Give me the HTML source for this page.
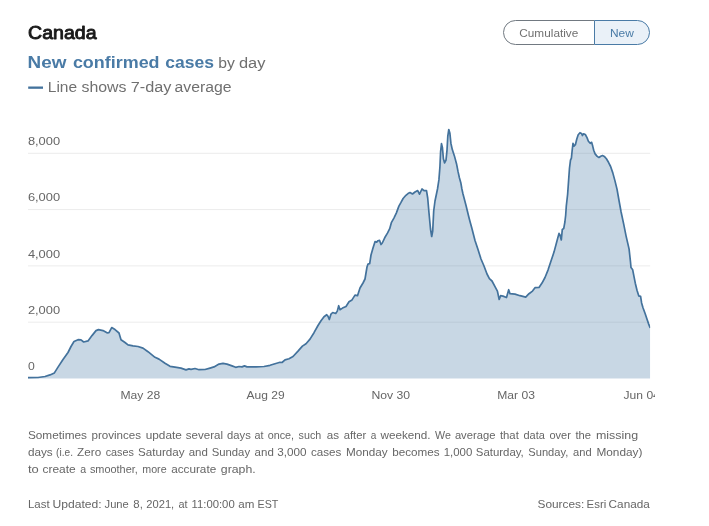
<!DOCTYPE html>
<html><head><meta charset="utf-8"><title>Canada</title>
<style>
html,body{margin:0;padding:0;background:#fff;}
svg{display:block;font-family:"Liberation Sans",sans-serif;will-change:transform;}
</style></head><body>
<svg width="709" height="526" viewBox="0 0 709 526">
<rect width="709" height="526" fill="#fff"/>
<!-- header -->
<text x="28.1" y="38.7" font-size="17.6" fill="#1a1a1a" stroke="#1a1a1a" stroke-width="0.9" stroke-linejoin="round" textLength="68.5" lengthAdjust="spacingAndGlyphs">Canada</text>
<text x="27.6" y="67.5" font-size="16.2" font-weight="bold" fill="#4a7ba6" textLength="38.9" lengthAdjust="spacingAndGlyphs">New</text>
<text x="72.9" y="67.5" font-size="16.2" font-weight="bold" fill="#4a7ba6" textLength="86.7" lengthAdjust="spacingAndGlyphs">confirmed</text>
<text x="165.2" y="67.5" font-size="16.2" font-weight="bold" fill="#4a7ba6" textLength="48.7" lengthAdjust="spacingAndGlyphs">cases</text>
<text x="218.3" y="67.5" font-size="15.5" font-weight="normal" fill="#6f6f6f" textLength="16.6" lengthAdjust="spacingAndGlyphs">by</text>
<text x="238.9" y="67.5" font-size="15.5" font-weight="normal" fill="#6f6f6f" textLength="26.5" lengthAdjust="spacingAndGlyphs">day</text>
<rect x="28.2" y="86.5" width="14.8" height="2.3" fill="#43729c"/>
<text x="47.8" y="91.9" font-size="14" font-weight="normal" fill="#707070" textLength="29.3" lengthAdjust="spacingAndGlyphs">Line</text>
<text x="81.5" y="91.9" font-size="14" font-weight="normal" fill="#707070" textLength="45.0" lengthAdjust="spacingAndGlyphs">shows</text>
<text x="130.8" y="91.9" font-size="14" font-weight="normal" fill="#707070" textLength="40.7" lengthAdjust="spacingAndGlyphs">7-day</text>
<text x="174.5" y="91.9" font-size="14" font-weight="normal" fill="#707070" textLength="57.0" lengthAdjust="spacingAndGlyphs">average</text>
<!-- toggle -->
<path d="M594.5,20.5 H515.5 A12,12 0 0 0 515.5,44.5 H594.5" fill="#fff" stroke="#717981" stroke-width="1"/>
<path d="M594.5,20.5 H637.5 A12,12 0 0 1 637.5,44.5 H594.5 Z" fill="#eaf1f8" stroke="#4a7ba6" stroke-width="1"/>
<text x="519.3" y="37.1" font-size="11.7" fill="#707070" textLength="59" lengthAdjust="spacingAndGlyphs">Cumulative</text>
<text x="610" y="37.1" font-size="11.7" fill="#4a7ba6" textLength="23.9" lengthAdjust="spacingAndGlyphs">New</text>
<!-- grid -->
<g stroke="#ececec" stroke-width="1">
<line x1="28" x2="650.2" y1="153.3" y2="153.3"/>
<line x1="28" x2="650.2" y1="209.6" y2="209.6"/>
<line x1="28" x2="650.2" y1="265.9" y2="265.9"/>
<line x1="28" x2="650.2" y1="322.2" y2="322.2"/>
</g>
<g font-size="11.2" fill="#666">
<text x="27.9" y="145.1" textLength="32.2" lengthAdjust="spacingAndGlyphs">8,000</text>
<text x="27.9" y="201.4" textLength="32.2" lengthAdjust="spacingAndGlyphs">6,000</text>
<text x="27.9" y="257.7" textLength="32.2" lengthAdjust="spacingAndGlyphs">4,000</text>
<text x="27.9" y="314.0" textLength="32.2" lengthAdjust="spacingAndGlyphs">2,000</text>
<text x="27.9" y="370.2" textLength="6.8" lengthAdjust="spacingAndGlyphs">0</text>
</g>
<!-- area -->
<defs><clipPath id="ca"><rect x="0" y="100" width="650.2" height="300"/></clipPath></defs>
<g clip-path="url(#ca)">
<path d="M28,377.7 L38,377.5 L45,376.5 L50,374.9 L54.4,372.9 L58,367.1 L63,359.5 L68,352.5 L71,346.5 L74,341.5 L78,339.7 L81,339.9 L83.7,342 L88,340.9 L92,335.6 L96,330.6 L98.5,329.6 L103,330.6 L107,332.8 L109,332.6 L111.7,327.6 L115,329.6 L119,333 L121,339.7 L125,342.5 L128,344.9 L133,345.9 L138,346.5 L143,348.1 L148,351.7 L155,357.3 L159,359.1 L165,363.3 L170,366.3 L175,367.1 L181,368.1 L186,369.9 L189,368.9 L191,369.3 L195,368.5 L199,369.7 L205,369.5 L210,368.1 L214,366.9 L219,364.1 L223,363.3 L227,364.1 L232,365.9 L235.7,367.3 L239,366.5 L242,366.9 L244.5,365.9 L247,366.9 L256,366.9 L264,366.5 L270,365.3 L275,363.7 L280,362.3 L282,362.5 L285,359.9 L289,358.7 L293,356.5 L298,351.1 L302.4,346.1 L306,343.7 L310,339.1 L314,332.7 L318,325.5 L321,320.7 L324,316.7 L326.7,314.7 L328,316.3 L329.3,319.5 L331,314.1 L332.7,312.5 L335.7,313.5 L337.3,311.1 L338.7,305.7 L340,309.7 L342.5,308.1 L346,306.5 L349,301.7 L352,299.9 L355,295.1 L357.5,295.7 L360,288 L363,283 L365,279 L367,267 L368,264 L369.7,263.6 L371,255 L373,248.1 L375,241.7 L376.7,242.1 L378,240.7 L379.5,240.3 L381,244.5 L382.3,243 L384.7,237.8 L387.6,232.9 L389.7,228.7 L391.5,222.3 L393.9,218.1 L396.3,213.1 L398.9,206.1 L401,202.4 L403.1,198.5 L405.9,195.3 L408,193.6 L410,192.6 L412.5,194 L415,192 L417.7,190.6 L419.5,194.2 L422,189 L424,190.6 L426.5,190.6 L427.7,198 L429,213 L430.5,229 L431.7,236.5 L432.7,231 L433.7,211 L435,201 L437.5,189 L438.9,179.9 L439.9,167.2 L440.6,151.7 L441.5,143.6 L442.4,147.4 L443.4,158.7 L444.6,163 L446,160.1 L447,150.3 L447.8,136.2 L448.8,129.5 L449.9,133.3 L450.9,143.2 L452.3,149.6 L454.4,155.9 L456.5,163.7 L458,171.4 L459.4,177.8 L460.8,182.7 L461.9,189 L463,194 L465.9,205 L468.7,216.5 L470,221.5 L471.8,228 L475,240.5 L478,249.5 L481,259 L484,266 L487,274 L489.4,278.7 L492,281 L495,286.7 L497.4,291.1 L499.2,299.5 L500.6,295.7 L503,296.1 L506.5,297.5 L508.7,289.7 L510,293.7 L515,294.1 L520,295.7 L525.7,297.1 L529,293.7 L532.5,291.1 L535,287.7 L539,287.5 L542,283.1 L545,277.5 L548,270.1 L551,261.1 L554,252.1 L556.7,242 L559,233.4 L560,235 L561.3,240 L562.3,229.4 L563.7,228.6 L564.9,222 L565.7,215 L566.3,206 L567.6,194.5 L568.6,180.6 L569.5,168 L570.5,160.2 L571.4,158.1 L572.1,151 L573,143.3 L574,146.1 L575.4,144.7 L576.8,139 L578.2,134.8 L580,132.7 L581.5,133.4 L582.4,135.5 L583.6,133.8 L585.3,134.5 L587,137.6 L588.4,141.2 L590.2,143.3 L591.6,142.3 L592.7,146.1 L593.7,150.3 L595.1,153.9 L597.2,156.4 L598.9,157.5 L600.8,156.2 L602.5,155.5 L604.3,156.4 L606.4,158.8 L608.5,162.3 L610.6,166.5 L612.8,172.9 L614.9,180.6 L617,189.1 L619.1,201 L621.1,212 L623.7,224.1 L626.1,236.1 L629.1,249.1 L630.5,262 L631,267.6 L632.7,269.8 L633.9,276.1 L635.3,283.2 L637,290.2 L638.8,295.9 L640.6,296.3 L641.6,302.9 L643,307.8 L645.1,313.5 L647.2,319.8 L648.7,324.1 L650.2,328 L650.2,378.5 L28,378.5 Z" fill="#4a7ba6" fill-opacity="0.3"/>
<path d="M28,377.7 L38,377.5 L45,376.5 L50,374.9 L54.4,372.9 L58,367.1 L63,359.5 L68,352.5 L71,346.5 L74,341.5 L78,339.7 L81,339.9 L83.7,342 L88,340.9 L92,335.6 L96,330.6 L98.5,329.6 L103,330.6 L107,332.8 L109,332.6 L111.7,327.6 L115,329.6 L119,333 L121,339.7 L125,342.5 L128,344.9 L133,345.9 L138,346.5 L143,348.1 L148,351.7 L155,357.3 L159,359.1 L165,363.3 L170,366.3 L175,367.1 L181,368.1 L186,369.9 L189,368.9 L191,369.3 L195,368.5 L199,369.7 L205,369.5 L210,368.1 L214,366.9 L219,364.1 L223,363.3 L227,364.1 L232,365.9 L235.7,367.3 L239,366.5 L242,366.9 L244.5,365.9 L247,366.9 L256,366.9 L264,366.5 L270,365.3 L275,363.7 L280,362.3 L282,362.5 L285,359.9 L289,358.7 L293,356.5 L298,351.1 L302.4,346.1 L306,343.7 L310,339.1 L314,332.7 L318,325.5 L321,320.7 L324,316.7 L326.7,314.7 L328,316.3 L329.3,319.5 L331,314.1 L332.7,312.5 L335.7,313.5 L337.3,311.1 L338.7,305.7 L340,309.7 L342.5,308.1 L346,306.5 L349,301.7 L352,299.9 L355,295.1 L357.5,295.7 L360,288 L363,283 L365,279 L367,267 L368,264 L369.7,263.6 L371,255 L373,248.1 L375,241.7 L376.7,242.1 L378,240.7 L379.5,240.3 L381,244.5 L382.3,243 L384.7,237.8 L387.6,232.9 L389.7,228.7 L391.5,222.3 L393.9,218.1 L396.3,213.1 L398.9,206.1 L401,202.4 L403.1,198.5 L405.9,195.3 L408,193.6 L410,192.6 L412.5,194 L415,192 L417.7,190.6 L419.5,194.2 L422,189 L424,190.6 L426.5,190.6 L427.7,198 L429,213 L430.5,229 L431.7,236.5 L432.7,231 L433.7,211 L435,201 L437.5,189 L438.9,179.9 L439.9,167.2 L440.6,151.7 L441.5,143.6 L442.4,147.4 L443.4,158.7 L444.6,163 L446,160.1 L447,150.3 L447.8,136.2 L448.8,129.5 L449.9,133.3 L450.9,143.2 L452.3,149.6 L454.4,155.9 L456.5,163.7 L458,171.4 L459.4,177.8 L460.8,182.7 L461.9,189 L463,194 L465.9,205 L468.7,216.5 L470,221.5 L471.8,228 L475,240.5 L478,249.5 L481,259 L484,266 L487,274 L489.4,278.7 L492,281 L495,286.7 L497.4,291.1 L499.2,299.5 L500.6,295.7 L503,296.1 L506.5,297.5 L508.7,289.7 L510,293.7 L515,294.1 L520,295.7 L525.7,297.1 L529,293.7 L532.5,291.1 L535,287.7 L539,287.5 L542,283.1 L545,277.5 L548,270.1 L551,261.1 L554,252.1 L556.7,242 L559,233.4 L560,235 L561.3,240 L562.3,229.4 L563.7,228.6 L564.9,222 L565.7,215 L566.3,206 L567.6,194.5 L568.6,180.6 L569.5,168 L570.5,160.2 L571.4,158.1 L572.1,151 L573,143.3 L574,146.1 L575.4,144.7 L576.8,139 L578.2,134.8 L580,132.7 L581.5,133.4 L582.4,135.5 L583.6,133.8 L585.3,134.5 L587,137.6 L588.4,141.2 L590.2,143.3 L591.6,142.3 L592.7,146.1 L593.7,150.3 L595.1,153.9 L597.2,156.4 L598.9,157.5 L600.8,156.2 L602.5,155.5 L604.3,156.4 L606.4,158.8 L608.5,162.3 L610.6,166.5 L612.8,172.9 L614.9,180.6 L617,189.1 L619.1,201 L621.1,212 L623.7,224.1 L626.1,236.1 L629.1,249.1 L630.5,262 L631,267.6 L632.7,269.8 L633.9,276.1 L635.3,283.2 L637,290.2 L638.8,295.9 L640.6,296.3 L641.6,302.9 L643,307.8 L645.1,313.5 L647.2,319.8 L648.7,324.1 L650.2,328" fill="none" stroke="#43729c" stroke-width="1.7" stroke-linejoin="round" stroke-linecap="butt"/>
</g>
<!-- x labels -->
<defs><clipPath id="c"><rect x="0" y="380" width="655" height="30"/></clipPath></defs>
<g font-size="11.2" fill="#666" text-anchor="middle" clip-path="url(#c)">
<text x="140.3" y="399.2" textLength="39.8" lengthAdjust="spacingAndGlyphs">May 28</text>
<text x="265.6" y="399.2" textLength="38.1" lengthAdjust="spacingAndGlyphs">Aug 29</text>
<text x="390.8" y="399.2" textLength="38.7" lengthAdjust="spacingAndGlyphs">Nov 30</text>
<text x="516.1" y="399.2" textLength="37.7" lengthAdjust="spacingAndGlyphs">Mar 03</text>
<text x="641.7" y="399.2" textLength="36.3" lengthAdjust="spacingAndGlyphs">Jun 04</text>
</g>
<!-- footer -->
<text x="27.9" y="439.3" font-size="10.6" font-weight="normal" fill="#666" textLength="59.1" lengthAdjust="spacingAndGlyphs">Sometimes</text>
<text x="91.5" y="439.3" font-size="10.6" font-weight="normal" fill="#666" textLength="49.6" lengthAdjust="spacingAndGlyphs">provinces</text>
<text x="145.7" y="439.3" font-size="10.6" font-weight="normal" fill="#666" textLength="36.2" lengthAdjust="spacingAndGlyphs">update</text>
<text x="185.8" y="439.3" font-size="10.6" font-weight="normal" fill="#666" textLength="37.2" lengthAdjust="spacingAndGlyphs">several</text>
<text x="227.1" y="439.3" font-size="10.6" font-weight="normal" fill="#666" textLength="23.7" lengthAdjust="spacingAndGlyphs">days</text>
<text x="254.6" y="439.3" font-size="10.6" font-weight="normal" fill="#666" textLength="9.0" lengthAdjust="spacingAndGlyphs">at</text>
<text x="267.7" y="439.3" font-size="10.6" font-weight="normal" fill="#666" textLength="26.4" lengthAdjust="spacingAndGlyphs">once,</text>
<text x="298.6" y="439.3" font-size="10.6" font-weight="normal" fill="#666" textLength="22.6" lengthAdjust="spacingAndGlyphs">such</text>
<text x="326.8" y="439.3" font-size="10.6" font-weight="normal" fill="#666" textLength="12.3" lengthAdjust="spacingAndGlyphs">as</text>
<text x="343.7" y="439.3" font-size="10.6" font-weight="normal" fill="#666" textLength="22.5" lengthAdjust="spacingAndGlyphs">after</text>
<text x="370.8" y="439.3" font-size="10.6" font-weight="normal" fill="#666" textLength="5.6" lengthAdjust="spacingAndGlyphs">a</text>
<text x="380.5" y="439.3" font-size="10.6" font-weight="normal" fill="#666" textLength="50.1" lengthAdjust="spacingAndGlyphs">weekend.</text>
<text x="435.1" y="439.3" font-size="10.6" font-weight="normal" fill="#666" textLength="15.8" lengthAdjust="spacingAndGlyphs">We</text>
<text x="454.9" y="439.3" font-size="10.6" font-weight="normal" fill="#666" textLength="40.5" lengthAdjust="spacingAndGlyphs">average</text>
<text x="499.9" y="439.3" font-size="10.6" font-weight="normal" fill="#666" textLength="18.9" lengthAdjust="spacingAndGlyphs">that</text>
<text x="523.5" y="439.3" font-size="10.6" font-weight="normal" fill="#666" textLength="21.4" lengthAdjust="spacingAndGlyphs">data</text>
<text x="549.4" y="439.3" font-size="10.6" font-weight="normal" fill="#666" textLength="21.4" lengthAdjust="spacingAndGlyphs">over</text>
<text x="575.5" y="439.3" font-size="10.6" font-weight="normal" fill="#666" textLength="15.6" lengthAdjust="spacingAndGlyphs">the</text>
<text x="595.9" y="439.3" font-size="10.6" font-weight="normal" fill="#666" textLength="42.2" lengthAdjust="spacingAndGlyphs">missing</text>
<text x="27.9" y="456.2" font-size="10.6" font-weight="normal" fill="#666" textLength="24.8" lengthAdjust="spacingAndGlyphs">days</text>
<text x="56.1" y="456.2" font-size="10.6" font-weight="normal" fill="#666" textLength="16.9" lengthAdjust="spacingAndGlyphs">(i.e.</text>
<text x="77.1" y="456.2" font-size="10.6" font-weight="normal" fill="#666" textLength="24.1" lengthAdjust="spacingAndGlyphs">Zero</text>
<text x="105.7" y="456.2" font-size="10.6" font-weight="normal" fill="#666" textLength="28.2" lengthAdjust="spacingAndGlyphs">cases</text>
<text x="138.0" y="456.2" font-size="10.6" font-weight="normal" fill="#666" textLength="46.6" lengthAdjust="spacingAndGlyphs">Saturday</text>
<text x="188.7" y="456.2" font-size="10.6" font-weight="normal" fill="#666" textLength="19.2" lengthAdjust="spacingAndGlyphs">and</text>
<text x="211.7" y="456.2" font-size="10.6" font-weight="normal" fill="#666" textLength="38.4" lengthAdjust="spacingAndGlyphs">Sunday</text>
<text x="254.6" y="456.2" font-size="10.6" font-weight="normal" fill="#666" textLength="19.2" lengthAdjust="spacingAndGlyphs">and</text>
<text x="277.2" y="456.2" font-size="10.6" font-weight="normal" fill="#666" textLength="29.3" lengthAdjust="spacingAndGlyphs">3,000</text>
<text x="311.0" y="456.2" font-size="10.6" font-weight="normal" fill="#666" textLength="30.4" lengthAdjust="spacingAndGlyphs">cases</text>
<text x="345.9" y="456.2" font-size="10.6" font-weight="normal" fill="#666" textLength="41.7" lengthAdjust="spacingAndGlyphs">Monday</text>
<text x="392.2" y="456.2" font-size="10.6" font-weight="normal" fill="#666" textLength="47.4" lengthAdjust="spacingAndGlyphs">becomes</text>
<text x="443.7" y="456.2" font-size="10.6" font-weight="normal" fill="#666" textLength="28.6" lengthAdjust="spacingAndGlyphs">1,000</text>
<text x="475.8" y="456.2" font-size="10.6" font-weight="normal" fill="#666" textLength="48.0" lengthAdjust="spacingAndGlyphs">Saturday,</text>
<text x="528.3" y="456.2" font-size="10.6" font-weight="normal" fill="#666" textLength="40.0" lengthAdjust="spacingAndGlyphs">Sunday,</text>
<text x="573.0" y="456.2" font-size="10.6" font-weight="normal" fill="#666" textLength="18.6" lengthAdjust="spacingAndGlyphs">and</text>
<text x="596.4" y="456.2" font-size="10.6" font-weight="normal" fill="#666" textLength="46.0" lengthAdjust="spacingAndGlyphs">Monday)</text>
<text x="27.9" y="473.2" font-size="10.6" font-weight="normal" fill="#666" textLength="10.8" lengthAdjust="spacingAndGlyphs">to</text>
<text x="42.5" y="473.2" font-size="10.6" font-weight="normal" fill="#666" textLength="33.2" lengthAdjust="spacingAndGlyphs">create</text>
<text x="80.2" y="473.2" font-size="10.6" font-weight="normal" fill="#666" textLength="5.9" lengthAdjust="spacingAndGlyphs">a</text>
<text x="89.9" y="473.2" font-size="10.6" font-weight="normal" fill="#666" textLength="47.9" lengthAdjust="spacingAndGlyphs">smoother,</text>
<text x="142.3" y="473.2" font-size="10.6" font-weight="normal" fill="#666" textLength="24.3" lengthAdjust="spacingAndGlyphs">more</text>
<text x="171.2" y="473.2" font-size="10.6" font-weight="normal" fill="#666" textLength="45.0" lengthAdjust="spacingAndGlyphs">accurate</text>
<text x="220.8" y="473.2" font-size="10.6" font-weight="normal" fill="#666" textLength="34.9" lengthAdjust="spacingAndGlyphs">graph.</text>
<text x="27.9" y="508.2" font-size="10.6" font-weight="normal" fill="#666" textLength="21.7" lengthAdjust="spacingAndGlyphs">Last</text>
<text x="52.5" y="508.2" font-size="10.6" font-weight="normal" fill="#666" textLength="49.2" lengthAdjust="spacingAndGlyphs">Updated:</text>
<text x="104.6" y="508.2" font-size="10.6" font-weight="normal" fill="#666" textLength="24.2" lengthAdjust="spacingAndGlyphs">June</text>
<text x="133.3" y="508.2" font-size="10.6" font-weight="normal" fill="#666" textLength="9.5" lengthAdjust="spacingAndGlyphs">8,</text>
<text x="146.3" y="508.2" font-size="10.6" font-weight="normal" fill="#666" textLength="27.9" lengthAdjust="spacingAndGlyphs">2021,</text>
<text x="178.5" y="508.2" font-size="10.6" font-weight="normal" fill="#666" textLength="9.1" lengthAdjust="spacingAndGlyphs">at</text>
<text x="191.5" y="508.2" font-size="10.6" font-weight="normal" fill="#666" textLength="43.2" lengthAdjust="spacingAndGlyphs">11:00:00</text>
<text x="238.2" y="508.2" font-size="10.6" font-weight="normal" fill="#666" textLength="16.1" lengthAdjust="spacingAndGlyphs">am</text>
<text x="257.6" y="508.2" font-size="10.6" font-weight="normal" fill="#666" textLength="20.8" lengthAdjust="spacingAndGlyphs">EST</text>
<text x="537.5" y="508.2" font-size="10.6" font-weight="normal" fill="#666" textLength="46.8" lengthAdjust="spacingAndGlyphs">Sources:</text>
<text x="586.6" y="508.2" font-size="10.6" font-weight="normal" fill="#666" textLength="19.7" lengthAdjust="spacingAndGlyphs">Esri</text>
<text x="608.6" y="508.2" font-size="10.6" font-weight="normal" fill="#666" textLength="41.2" lengthAdjust="spacingAndGlyphs">Canada</text>
</svg>
</body></html>
